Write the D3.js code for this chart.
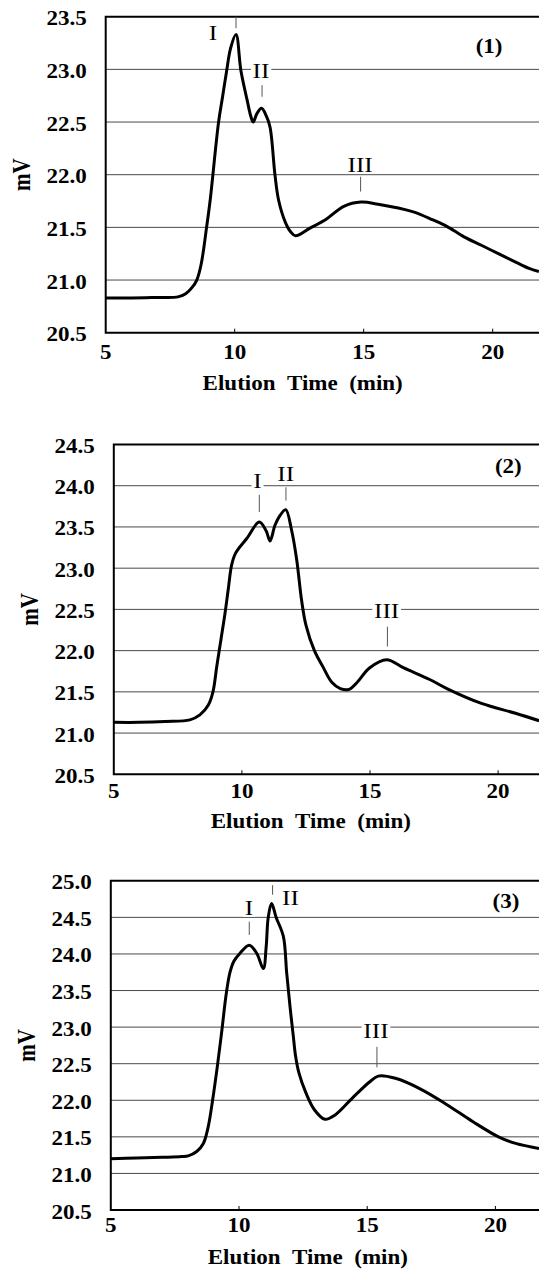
<!DOCTYPE html>
<html lang="en">
<head>
<meta charset="UTF-8">
<title>Elution profiles (1)-(3)</title>
<script src="https://d3js.org/d3.v7.min.js"></script>
<style>
  html, body { margin: 0; padding: 0; background: #fff; }
  svg { display: block; }
  text { font-family: "Liberation Serif", "Times New Roman", serif; fill: #000; }
</style>
</head>
<body>
<svg id="canvas" width="539" height="1269"></svg>
<script>
// values (time in min, signal in mV)
let xTicks = [5, 10, 15, 20];
let xTitle = "Elution\u00a0\u00a0Time\u00a0\u00a0(min)";
let yTitle = "mV";
let peakNames = ["I", "II", "III"];

// panel (1)
let time1 = [5, 6, 7, 7.8, 8.1, 8.35, 8.53, 8.7, 8.91, 9.05, 9.37, 9.53, 9.69, 9.84, 10.05, 10.24, 10.48, 10.63, 10.72, 10.86, 11.04, 11.22, 11.37, 11.56, 11.7, 11.96, 12.16, 12.36, 12.9, 13.56, 14.23, 14.9, 15.56, 16.89, 17.69, 18.22, 18.89, 19.56, 20.22, 20.89, 21.41, 21.79];
let mv1 = [20.83, 20.83, 20.835, 20.84, 20.87, 20.93, 21.0, 21.15, 21.5, 21.76, 22.49, 22.74, 22.99, 23.2, 23.33, 22.99, 22.71, 22.55, 22.5, 22.58, 22.63, 22.56, 22.45, 22.0, 21.76, 21.55, 21.46, 21.42, 21.49, 21.58, 21.7, 21.74, 21.72, 21.65, 21.57, 21.51, 21.41, 21.33, 21.25, 21.17, 21.11, 21.08];
let yTicks1 = [20.5, 21.0, 21.5, 22.0, 22.5, 23.0, 23.5];
// peak leaders: time, top and bottom of the tick; label centre time and baseline
let leaderAt1 = [10.05, 11.06, 14.88];
let leaderTop1 = [23.5, 22.85, 21.98];
let leaderEnd1 = [23.39, 22.74, 21.84];
let labelTime1 = [9.16, 11.02, 14.86];
let labelMv1 = [23.28, 22.92, 22.03];

// panel (2)
let time2 = [5, 6, 7, 7.97, 8.36, 8.69, 8.87, 9.02, 9.18, 9.34, 9.47, 9.6, 9.75, 10.19, 10.68, 10.95, 11.1, 11.29, 11.49, 11.71, 11.94, 12.14, 12.33, 12.5, 12.83, 13.17, 13.5, 13.84, 14.18, 14.51, 14.98, 15.65, 16.32, 17.33, 18.0, 19.35, 20.68, 21.6];
let mv2 = [21.13, 21.13, 21.14, 21.16, 21.22, 21.34, 21.5, 21.81, 22.13, 22.45, 22.75, 23.04, 23.18, 23.36, 23.56, 23.45, 23.33, 23.52, 23.64, 23.71, 23.46, 23.1, 22.61, 22.31, 22.0, 21.8, 21.62, 21.54, 21.53, 21.62, 21.79, 21.89, 21.79, 21.65, 21.54, 21.36, 21.24, 21.15];
let yTicks2 = [20.5, 21.0, 21.5, 22.0, 22.5, 23.0, 23.5, 24.0, 24.5];
let leaderAt2 = [10.68, 11.72, 15.68];
let leaderTop2 = [23.89, 23.98, 22.29];
let leaderEnd2 = [23.68, 23.82, 22.05];
let labelTime2 = [10.61, 11.71, 15.65];
let labelMv2 = [23.97, 24.06, 22.4];

// panel (3)
let time3 = [5, 6, 7, 7.77, 8.02, 8.35, 8.61, 8.8, 8.97, 9.15, 9.33, 9.5, 9.65, 9.8, 10.04, 10.4, 10.69, 10.95, 11.06, 11.14, 11.27, 11.45, 11.73, 11.86, 11.99, 12.12, 12.2, 12.34, 12.61, 12.94, 13.35, 13.75, 14.42, 15.09, 15.43, 16.1, 17.1, 18.11, 19.11, 20.12, 20.79, 21.7];
let mv3 = [21.2, 21.21, 21.22, 21.23, 21.24, 21.3, 21.41, 21.64, 22.0, 22.45, 22.95, 23.45, 23.75, 23.9, 24.01, 24.12, 24.01, 23.8, 24.1, 24.5, 24.69, 24.5, 24.24, 23.74, 23.28, 22.87, 22.62, 22.37, 22.1, 21.87, 21.74, 21.8, 22.03, 22.25, 22.33, 22.3, 22.15, 21.94, 21.71, 21.5, 21.41, 21.34];
let yTicks3 = [20.5, 21.0, 21.5, 22.0, 22.5, 23.0, 23.5, 24.0, 24.5, 25.0];
let leaderAt3 = [10.4, 11.31, 15.38];
let leaderTop3 = [24.44, 24.94, 22.73];
let leaderEnd3 = [24.26, 24.81, 22.45];
let labelTime3 = [10.39, 12.01, 15.34];
let labelMv3 = [24.53, 24.67, 22.85];

let panelNames = ["(1)", "(2)", "(3)"];
let panelNameTime = [19.86, 20.4, 20.41];
let panelNameMv = [23.16, 24.15, 24.63];

// page layout (pixels)
let W = 539;
let SX = 1.15;   // the original figure is stretched sideways
let layout = [
  { top: 16.7,  bottom: 332.7, left: 105.7, x20: 492.7, tickDy: 26.5, titleDy: 57 },
  { top: 444.5, bottom: 774.3, left: 113.8, x20: 498.1, tickDy: 24,   titleDy: 54 },
  { top: 880.8, bottom: 1210,  left: 110.8, x20: 495.4, tickDy: 22,   titleDy: 54 }
];

let panels = [
  { time: time1, mv: mv1, yTicks: yTicks1, at: leaderAt1, lt: leaderTop1, le: leaderEnd1, tt: labelTime1, tm: labelMv1 },
  { time: time2, mv: mv2, yTicks: yTicks2, at: leaderAt2, lt: leaderTop2, le: leaderEnd2, tt: labelTime2, tm: labelMv2 },
  { time: time3, mv: mv3, yTicks: yTicks3, at: leaderAt3, lt: leaderTop3, le: leaderEnd3, tt: labelTime3, tm: labelMv3 }
];

let canvas = d3.select('#canvas');

// text drawn inside a group that carries the sideways stretch
let stretchedText = (parent, x, y, str, size, weight, anchor, rotate) => {
  let g = parent.append('g')
    .attr('transform', `translate(${x},${y}) scale(${SX},1)` + (rotate ? ' rotate(-90)' : ''));
  g.append('text')
    .attr('text-anchor', anchor)
    .style('font-size', size + 'px')
    .style('font-weight', weight)
    .text(str);
  return g;
};

let drawPanel = (p, i) => {
  let L = layout[i];
  let yDom = d3.extent(p.yTicks);
  let x = d3.scaleLinear().domain([5, 20]).range([L.left, L.x20]);
  let y = d3.scaleLinear().domain(yDom).range([L.bottom, L.top]);
  let g = canvas.append('g');

  let clipId = 'clip' + i;
  g.append('clipPath').attr('id', clipId)
    .append('rect').attr('x', L.left).attr('y', L.top - 2).attr('width', W - L.left).attr('height', L.bottom - L.top + 4);

  // grid lines
  g.selectAll('.grid').data(p.yTicks.slice(1, -1)).enter().append('line')
    .attr('x1', L.left).attr('x2', W)
    .attr('y1', d => y(d)).attr('y2', d => y(d))
    .attr('stroke', '#4a4a4a').attr('stroke-width', 1);

  // inward x ticks
  g.selectAll('.xt').data(xTicks.slice(1)).enter().append('line')
    .attr('x1', d => x(d)).attr('x2', d => x(d))
    .attr('y1', L.bottom).attr('y2', L.bottom - 4)
    .attr('stroke', '#000').attr('stroke-width', 1);

  // frame: top, left, bottom
  g.append('path')
    .attr('d', `M${W},${L.top}H${L.left}V${L.bottom}H${W}`)
    .attr('fill', 'none').attr('stroke', '#000').attr('stroke-width', 2);

  // peak leaders and labels
  peakNames.forEach((name, k) => {
    g.append('line')
      .attr('x1', x(p.at[k])).attr('x2', x(p.at[k]))
      .attr('y1', y(p.lt[k])).attr('y2', y(p.le[k]))
      .attr('stroke', '#555').attr('stroke-width', 1);
    let lg = stretchedText(g, x(p.tt[k]), y(p.tm[k]), name, 22, 'normal', 'middle', false);
    let bb = lg.select('text').node().getBBox();
    lg.insert('rect', 'text')
      .attr('x', bb.x - 1.5).attr('y', bb.y + 3)
      .attr('width', bb.width + 3).attr('height', bb.height - 6)
      .attr('fill', '#fff');
  });

  // the trace
  let line = d3.line()
    .x((d, j) => x(p.time[j]))
    .y(d => y(d))
    .curve(d3.curveCatmullRom.alpha(0.5));
  g.append('path')
    .datum(p.mv)
    .attr('d', line)
    .attr('clip-path', `url(#${clipId})`)
    .attr('fill', 'none').attr('stroke', '#000').attr('stroke-width', 3)
    .attr('stroke-linejoin', 'round');

  stretchedText(g, x(panelNameTime[i]), y(panelNameMv[i]), panelNames[i], 20, 'bold', 'middle', false);

  // tick labels
  p.yTicks.forEach(v => {
    stretchedText(g, L.left - 19, y(v) + 8.5, d3.format('.1f')(v), 20, 'bold', 'end', false);
  });
  xTicks.forEach(v => {
    stretchedText(g, x(v), L.bottom + L.tickDy, v, 20, 'bold', 'middle', false);
  });

  // axis titles
  stretchedText(g, L.left + 197, L.bottom + L.titleDy, xTitle, 20, 'bold', 'middle', false);
  stretchedText(g, L.left - 76, (L.top + L.bottom) / 2, yTitle, 21, 'bold', 'middle', true);
};

panels.forEach(drawPanel);
</script>
</body>
</html>
